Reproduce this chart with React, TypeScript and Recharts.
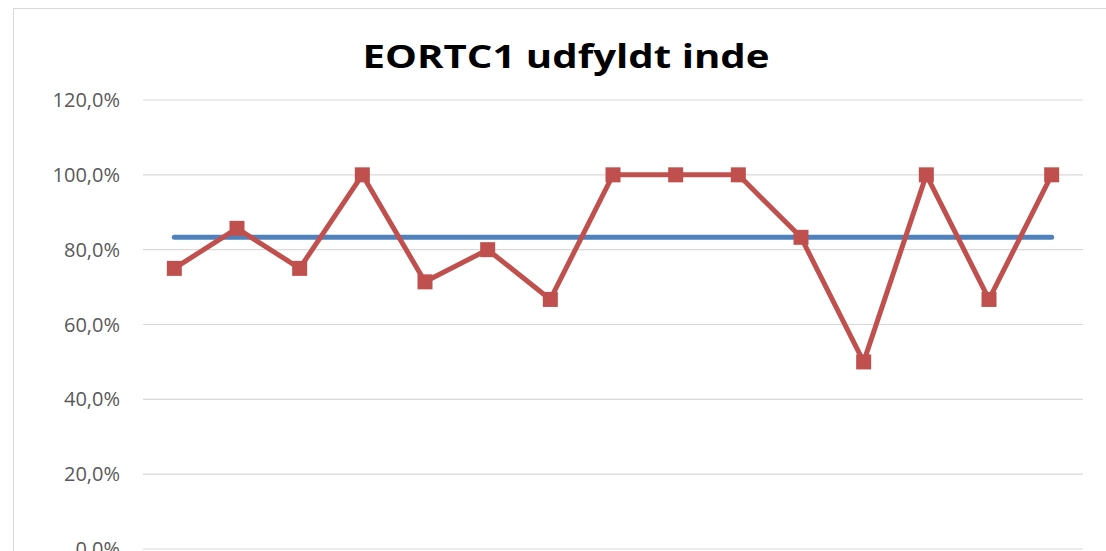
import React from "react";
import { LineChart, Line, XAxis, YAxis, CartesianGrid } from "recharts";

const categories = ["1", "2", "3", "4", "5", "6", "7", "8", "9", "10", "11", "12", "13", "14", "15"];
const completedValues = [75, 85.7, 75, 100, 71.4, 80, 66.7, 100, 100, 100, 83.3, 50, 100, 66.7, 100];
const averageValue = 83.3;
const yTicks = [0, 20, 40, 60, 80, 100, 120];
const title = "EORTC1 udfyldt inde";

const data = categories.map((c, i) => ({
  name: c,
  value: completedValues[i],
  avg: averageValue,
}));

const SquareDot = (props: any) => {
  const { cx, cy, index } = props;
  if (cx == null || cy == null) return null;
  return <rect key={`sq-${index}`} x={cx - 7.5} y={cy - 7.5} width={15} height={15} fill="#C0504D" />;
};

const fmt = (v: number) => `${v.toFixed(1).replace(".", ",")}%`;

export default function App() {
  return (
    <div
      style={{
        position: "absolute",
        left: 0,
        top: 0,
        width: 1106,
        height: 551,
        overflow: "hidden",
        background: "#fff",
      }}
    >
      <div
        style={{
          position: "absolute",
          left: 13,
          top: 8,
          width: 1300,
          height: 800,
          border: "1.5px solid #d9d9d9",
          boxSizing: "border-box",
        }}
      />
      <svg width={1106} height={100} style={{ position: "absolute", left: 0, top: 0 }}>
        <text
          x={566}
          y={68}
          textAnchor="middle"
          fontFamily="'Open Sans', sans-serif"
          fontWeight="bold"
          fontSize={33}
          fill="#000"
          textLength={407}
          lengthAdjust="spacingAndGlyphs"
        >
          {title}
        </text>
      </svg>
      <div style={{ position: "absolute", left: 0, top: 0 }}>
        <LineChart
          width={1106}
          height={551}
          data={data}
          margin={{ top: 100, right: 23, bottom: 2, left: 0 }}
        >
          <CartesianGrid vertical={false} stroke="#d9d9d9" strokeWidth={1.2} />
          <XAxis dataKey="name" hide padding={{ left: 31.33, right: 31.33 }} />
          <YAxis
            width={143}
            domain={[0, 120]}
            ticks={yTicks}
            tickFormatter={fmt}
            axisLine={false}
            tickLine={false}
            tickSize={0}
            tickMargin={23}
            interval={0}
            tick={{ fill: "#595959", fontSize: 20, fontFamily: "'Open Sans', sans-serif" }}
          />
          <Line
            dataKey="avg"
            stroke="#4F81BD"
            strokeWidth={5}
            strokeLinecap="round"
            dot={false}
            activeDot={false}
            isAnimationActive={false}
          />
          <Line
            dataKey="value"
            stroke="#C0504D"
            strokeWidth={5}
            strokeLinejoin="round"
            dot={SquareDot}
            activeDot={false}
            isAnimationActive={false}
          />
        </LineChart>
      </div>
    </div>
  );
}
